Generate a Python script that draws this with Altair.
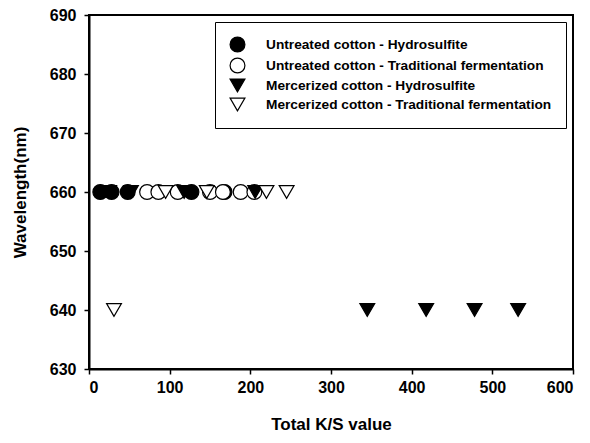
import altair as alt
import pandas as pd

series_names = [
    "Untreated cotton - Hydrosulfite",
    "Untreated cotton - Traditional fermentation",
    "Mercerized cotton - Hydrosulfite",
    "Mercerized cotton - Traditional fermentation",
]

uh_ks = [14, 28, 48, 127, 168]
uh_wl = [660, 660, 660, 660, 660]

ut_ks = [72, 86, 110, 150, 166, 188, 205]
ut_wl = [660, 660, 660, 660, 660, 660, 660]

mh_ks = [25, 52, 118, 206, 345, 418, 478, 532]
mh_wl = [660, 660, 660, 660, 640, 640, 640, 640]

mt_ks = [95, 146, 220, 245, 31]
mt_wl = [660, 660, 660, 660, 640]

rows = []
for name, xs, ys in zip(series_names, [uh_ks, ut_ks, mh_ks, mt_ks], [uh_wl, ut_wl, mh_wl, mt_wl]):
    for x, y in zip(xs, ys):
        rows.append({"series": name, "ks": x, "wl": y})
df = pd.DataFrame(rows)

font = "Liberation Sans"

chart = alt.Chart(df).mark_point(filled=True, stroke="black", strokeWidth=1.2, size=220, opacity=1).encode(
    x=alt.X("ks:Q", title="Total K/S value",
            scale=alt.Scale(domain=[0, 600], nice=False),
            axis=alt.Axis(values=[0, 100, 200, 300, 400, 500, 600])),
    y=alt.Y("wl:Q", title="Wavelength(nm)",
            scale=alt.Scale(domain=[630, 690], nice=False, zero=False),
            axis=alt.Axis(values=[630, 640, 650, 660, 670, 680, 690])),
    fill=alt.Fill("series:N", title=None,
                  scale=alt.Scale(domain=series_names, range=["black", "white", "black", "white"]),
                  legend=alt.Legend(orient="none", legendX=126, legendY=7,
                                    strokeColor="black", padding=14,
                                    labelFont=font, labelFontSize=13.7, labelFontWeight="bold",
                                    labelColor="black", symbolSize=220, symbolStrokeColor="black",
                                    symbolStrokeWidth=1.2, rowPadding=0, labelOffset=20,
                                    labelLimit=400)),
    shape=alt.Shape("series:N", title=None,
                    scale=alt.Scale(domain=series_names,
                                    range=["circle", "circle", "triangle-down", "triangle-down"])),
).properties(
    width=484, height=354,
    autosize=alt.AutoSizeParams(type="none"),
    padding={"left": 81, "top": 7, "right": 9, "bottom": 66},
).configure_view(
    stroke="black", strokeWidth=2
).configure_axis(
    grid=False, domainColor="black", domainWidth=2, tickColor="black", tickWidth=1.5,
    tickSize=5, labelFont=font, labelFontSize=16, labelFontWeight="bold", labelColor="black",
    titleFont=font, titleFontSize=17, titleFontWeight="bold", titleColor="black",
    labelPadding=6,
).configure_axisX(
    titlePadding=21, labelPadding=5
).configure_axisY(
    titlePadding=20, labelPadding=8
)

chart.save("out.html", embed_options={"renderer": "svg", "actions": False})
